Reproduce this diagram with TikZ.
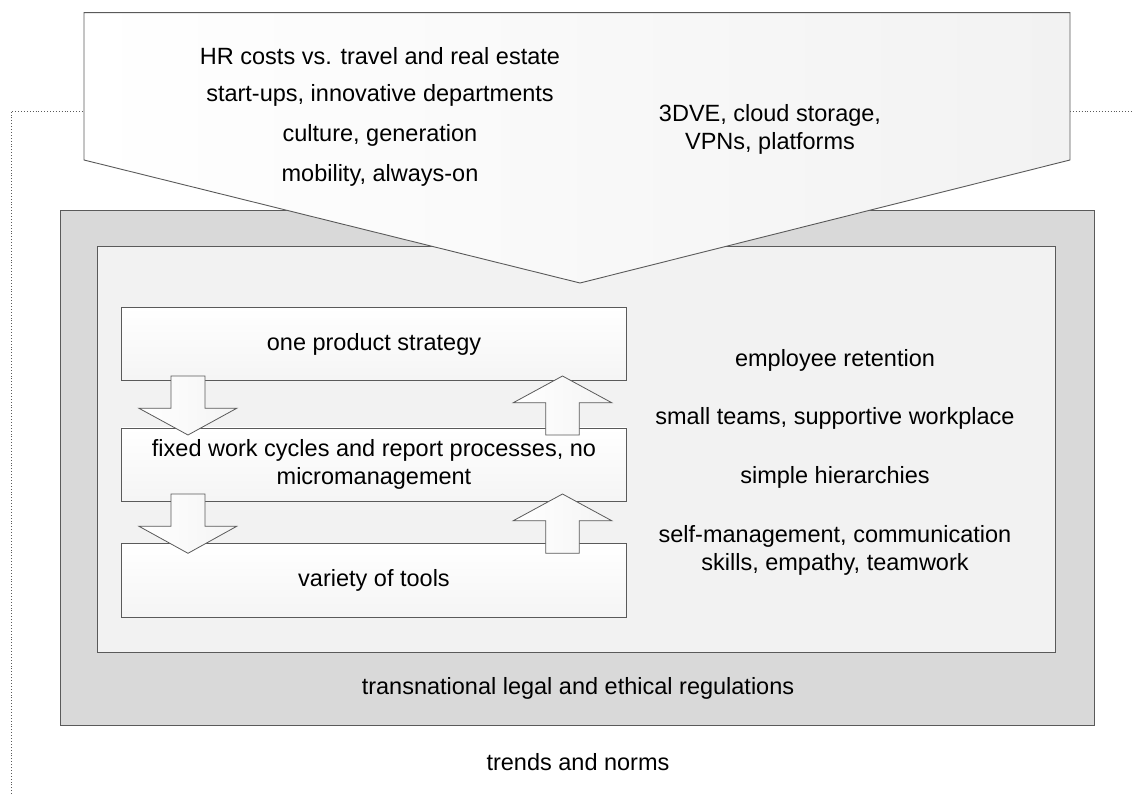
\documentclass[tikz,border=0pt]{standalone}
\usepackage{fontspec}
\setmainfont{Liberation Sans}
\usepackage{tikz}
\usetikzlibrary{positioning, calc}

\definecolor{framegray}{HTML}{D9D9D9}
\definecolor{panelgray}{HTML}{F2F2F2}
\definecolor{linegray}{HTML}{5A5A5A}

\tikzset{
    layerbox/.style={draw=linegray, line width=0.9},
    stepbox/.style={draw=linegray, line width=0.9, rectangle, minimum width=505, minimum height=73.5,
        top color=white, bottom color=panelgray!80, align=center, inner sep=0},
    blockarrow/.style={draw=linegray, line width=0.8, left color=white, right color=panelgray!85},
    label/.style={align=center, inner sep=0}
}

\begin{document}
\begin{tikzpicture} [x=1pt, y=-1pt, font=\fontsize{23.5}{28}\selectfont]
        \useasboundingbox (0,0) rectangle (1133,794);

        % dotted frame of trends and norms
        \draw [linegray, dotted, line width=0.9] (11,794) -- (11,111) -- (84,111);
        \draw [linegray, dotted, line width=0.9] (1070,111) -- (1133,111);

        % regulation frame and company panel
        \draw [layerbox, fill=framegray] (60,210) rectangle (1094,725);
        \draw [layerbox, fill=panelgray] (97,246) rectangle (1055,652);

        % influences from outside
        \draw [layerbox, left color=white, right color=panelgray] (84,12.7) -- (1070,12.7) -- (1070,160) -- (580,283) -- (84,160) -- cycle;

        \node [label] (hr) at (380,56) {HR costs vs. travel and real estate};
        \node [label] (startups) at (380,95) {start-ups, innovative departments};
        \node [label] (culture) at (380,135) {culture, generation};
        \node [label] (mobility) at (380,175) {mobility, always-on};
        \node [label, baseline=0] (tech) at (770,129) {3DVE, cloud storage,\\VPNs, platforms};

        % strategy levels
        \node [stepbox] (strategy) at (374,344) {one product strategy};
        \node [stepbox] (cycles) at (374,464.7) {fixed work cycles and report processes, no\\micromanagement};
        \node [stepbox] (tools) at (374,580.2) {variety of tools};

        % block arrows between the levels
        \foreach \top/\tip in {376/435, 494/553.3} {
            \draw [blockarrow] (171,\top) -- (205,\top) -- (205,\top+32.3) -- (236.7,\top+32.3) -- (188,\tip)
                -- (139,\top+32.3) -- (171,\top+32.3) -- cycle;
        }
        \foreach \tip/\bot in {376/435, 494/553.3} {
            \draw [blockarrow] (545.7,\bot) -- (579.3,\bot) -- (579.3,\tip+26.7) -- (611.7,\tip+26.7) -- (562.5,\tip)
                -- (513.3,\tip+26.7) -- (545.7,\tip+26.7) -- cycle;
        }

        % factors on the right
        \node [label] (retention) at (835,360) {employee retention};
        \node [label] (teams) at (835,418) {small teams, supportive workplace};
        \node [label] (hierarchies) at (835,477) {simple hierarchies};
        \node [label] (skills) at (835,550) {self-management, communication\\skills, empathy, teamwork};

        \node [label] (regulations) at (578,688) {transnational legal and ethical regulations};
        \node [label] (trends) at (578,762) {trends and norms};
\end{tikzpicture}
\end{document}
